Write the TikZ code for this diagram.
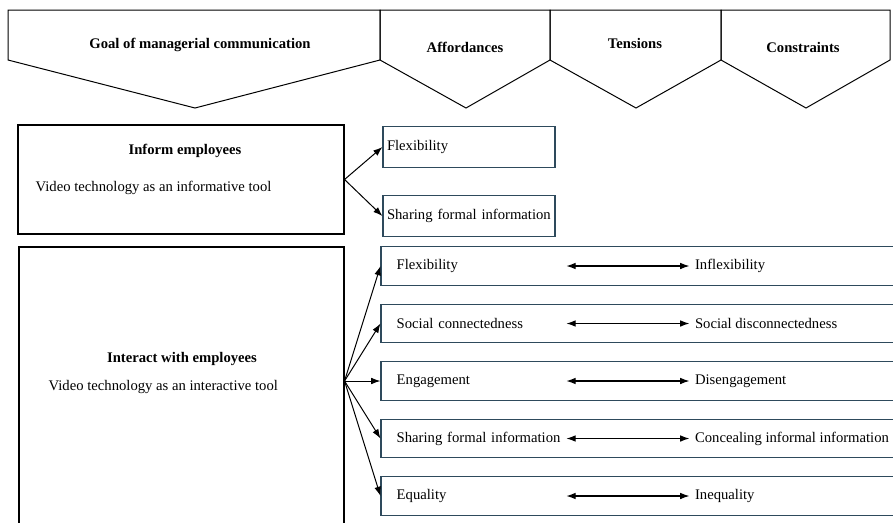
\documentclass[tikz,border=0pt]{standalone}
\usepackage{fontspec}
\setmainfont{Liberation Serif}
\usetikzlibrary{arrows.meta, positioning, calc}
\definecolor{slate}{HTML}{2E4A5C}

\begin{document}
\begin{tikzpicture}[
  x=0.75pt, y=-0.75pt,
  font=\fontsize{11}{13}\selectfont,
  head/.style={font=\fontsize{11}{13}\selectfont\bfseries},
  goalbox/.style={rectangle, draw, line width=0.8pt},
  optbox/.style={rectangle, draw=slate, line width=0.8pt, minimum width=129pt,
                 minimum height=31pt, text width=123pt, align=left, inner sep=3pt},
  pairbox/.style={rectangle, draw=slate, line width=0.8pt, minimum width=390pt,
                  minimum height=29pt},
  lbl/.style={anchor=west, inner sep=2pt, text width=125pt, align=left},
  rlbl/.style={anchor=west, inner sep=4pt},
  arr/.style={-{Latex[length=7pt,width=5pt]}, line width=0.75pt},
  dbl/.style={{Latex[length=7pt,width=5pt]}-{Latex[length=7pt,width=5pt]}, line width=0.9pt}
]
\useasboundingbox (0,0) rectangle (893,522);
\clip (0,0) rectangle (893,522);

% column heads
\foreach \l/\r/\a in {8/380/195, 380/550/466, 550/721/636, 721/890/806}
  \draw[line width=0.75pt] (\l,10) -- (\r,10) -- (\r,60) -- (\a,108) -- (\l,60) -- cycle;
\node[head] (goal) at (200,45) {Goal of managerial communication};
\node[head] (aff) at (465,47) {Affordances};
\node[head] (ten) at (635,43) {Tensions};
\node[head] (con) at (803,47) {Constraints};

% inform employees
\node[goalbox, minimum width=244.5pt, minimum height=81.75pt] (inform) at (181,179.5) {};
\node[head] (informT) at (185,151) {Inform employees};
\node[anchor=west] (informD) at (31,188) {Video technology as an informative tool};
\node[optbox] (iflex) at (469,147) {Flexibility};
\node[optbox, below=20pt of iflex] (ishare) {Sharing formal information};
\draw[arr] (inform.east) -- (iflex.west);
\draw[arr] (inform.east) -- (ishare.west);

% interact with employees
\node[goalbox, minimum width=243.75pt, minimum height=213pt] (interact) at (181.5,389) {};
\node[head] (interactT) at (182,359) {Interact with employees};
\node[anchor=west] (interactD) at (44,387) {Video technology as an interactive tool};
\foreach \a/\b [count=\k] in {Flexibility/Inflexibility,
    Social connectedness/Social disconnectedness,
    Engagement/Disengagement,
    Sharing formal information/Concealing informal information,
    Equality/Inequality} {
  \node[pairbox] (r\k) at (641,{266+57.5*(\k-1)}) {};
  \node[lbl] (a\k) at ([xshift=10pt]r\k.west) {\a};
  \node[rlbl] (b\k) at ($(r\k.west)+(309,0)$) {\b};
  \draw[dbl] (a\k) -- (b\k);
}
\coordinate (hub) at (interact.east |- r3.west);
\foreach \k in {1,...,5}
  \draw[arr] (hub) -- (r\k.west);
\end{tikzpicture}
\end{document}
